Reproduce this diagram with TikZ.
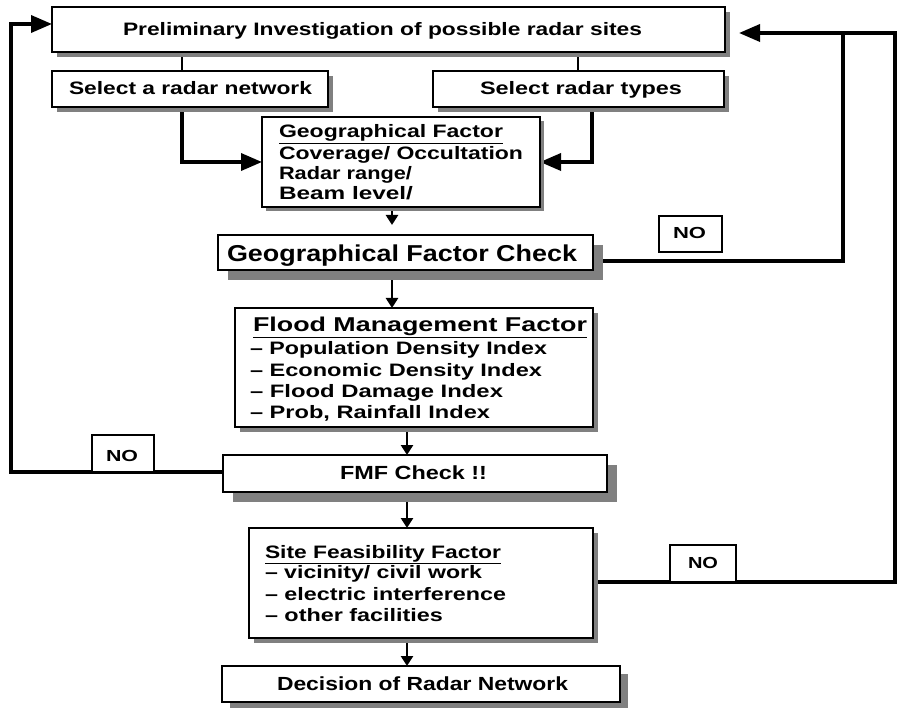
\documentclass[tikz,border=0pt]{standalone}
\usepackage{fontspec}
\setmainfont{Liberation Sans}
\usepackage{graphicx}
\usetikzlibrary{arrows.meta,shadows}
\definecolor{shadowgray}{HTML}{808080}
\pgfdeclarelayer{bg}
\pgfsetlayers{bg,main}
\newcommand\fitto[2]{\resizebox{#1pt}{\height}{#2}}
\newcommand\setfs[1]{\fontsize{#1}{#1}\selectfont}
\begin{document}
\begin{tikzpicture}[x=1pt,y=-1pt,
  box/.style={draw, line width=1.8pt, fill=white, inner sep=0pt, outer sep=0pt,
    general shadow={fill=shadowgray, shadow xshift=#1pt, shadow yshift=-#1pt}},
  box/.default=5,
  nobox/.style={draw, line width=1.3pt, fill=white, inner sep=0pt, outer sep=0pt},
  txt/.style={anchor=base west, inner sep=0pt, outer sep=0pt, font=\bfseries},
  loopline/.style={line width=3.5pt},
  link/.style={line width=2.5pt},
  bigtip/.style={-{Triangle[length=21pt,width=17pt]}},
  smalltip/.style={-{Triangle[length=10pt,width=12pt]}},
]
\useasboundingbox (0,0) rectangle (899,708);

% boxes
\node[box] (top) at (388.5,29.5) [minimum width=673pt, minimum height=45pt] {};
\node[box] (selnet) at (190,89) [minimum width=276pt, minimum height=36pt] {};
\node[box] (seltyp) at (578.5,89) [minimum width=291pt, minimum height=36pt] {};
\node[box=4] (geo) at (401,162) [minimum width=278pt, minimum height=90pt] {};
\node[box=10] (gfc) at (405.5,252.5) [minimum width=375pt, minimum height=35pt] {};
\node[box] (fmf) at (414,367.5) [minimum width=358pt, minimum height=119pt] {};
\node[box=10] (fmfc) at (415,473.5) [minimum width=384pt, minimum height=37pt] {};
\node[box] (sff) at (421,583) [minimum width=344pt, minimum height=110pt] {};
\node[box=8] (dec) at (421,684) [minimum width=398pt, minimum height=36pt] {};
\node[nobox] (no1) at (690.5,234) [minimum width=63pt, minimum height=36pt] {};
\node[nobox] (no2) at (123,453.5) [minimum width=62pt, minimum height=37pt] {};
\node[nobox] (no3) at (703,563.5) [minimum width=66pt, minimum height=37pt] {};

% texts
\node[txt] (ttop) at (123,36) {\setfs{18}\fitto{519}{Preliminary Investigation of possible radar sites}};
\node[txt] (tsn) at (69,95) {\setfs{18}\fitto{243}{Select a radar network}};
\node[txt] (tst) at (480,95) {\setfs{18}\fitto{202}{Select radar types}};
\node[txt] (g1) at (279,138) {\setfs{18}\fitto{224}{\underline{Geographical Factor}}};
\node[txt] (g2) at (279,160) {\setfs{18}\fitto{244}{Coverage/ Occultation}};
\node[txt] (g3) at (279,180) {\setfs{18}\fitto{133}{Radar range/}};
\node[txt] (g4) at (279,200) {\setfs{18}\fitto{134}{Beam level/}};
\node[txt] (tgfc) at (227,262) {\setfs{23}\fitto{350}{Geographical Factor Check}};
\node[txt] (f0) at (253,332) {\setfs{20}\fitto{334}{\underline{Flood Management Factor}}};
\node[txt] (f1) at (250,355) {\setfs{18}\fitto{297}{– Population Density Index}};
\node[txt] (f2) at (250,376) {\setfs{18}\fitto{292}{– Economic Density Index}};
\node[txt] (f3) at (250,397) {\setfs{18}\fitto{253}{– Flood Damage Index}};
\node[txt] (f4) at (250,418) {\setfs{18}\fitto{240}{– Prob, Rainfall Index}};
\node[txt] (tfmfc) at (340,479) {\setfs{19}\fitto{147}{FMF Check !!}};
\node[txt] (s0) at (265,558) {\setfs{18}\fitto{236}{\underline{Site Feasibility Factor}}};
\node[txt] (s1) at (265,578) {\setfs{18}\fitto{217}{– vicinity/ civil work}};
\node[txt] (s2) at (265,600) {\setfs{18}\fitto{241}{– electric interference}};
\node[txt] (s3) at (265,621) {\setfs{18}\fitto{178}{– other facilities}};
\node[txt] (tdec) at (277,690) {\setfs{19}\fitto{291}{Decision of Radar Network}};
\node[txt] (tno1) at (673,239) {\setfs{16}\fitto{33}{NO}};
\node[txt] (tno2) at (106,461) {\setfs{16}\fitto{32}{NO}};
\node[txt] (tno3) at (688,568) {\setfs{16}\fitto{30}{NO}};

% helper coordinates
\coordinate (cA) at (182,162);
\coordinate (cB) at (592,162);
\coordinate (cD) at (578,0);
\coordinate (m1) at (392,225);
\coordinate (m3) at (407,0);
\coordinate (cL) at (11,24);
\coordinate (cR1) at (843,33);
\coordinate (cR2) at (895,33);
\coordinate (tipR) at (739,33);
\coordinate (gfcout) at (593,261);

\begin{pgfonlayer}{bg}
\draw[link] (top.south -| cA) -- (selnet.north -| cA);
\draw[link] (top.south -| cD) -- (seltyp.north -| cD);
\draw[loopline,bigtip] (selnet.south -| cA) -- (cA) -- (cA -| geo.west);
\draw[loopline,bigtip] (seltyp.south -| cB) -- (cB) -- (cB -| geo.east);
\draw[link,smalltip] (geo.south -| m1) -- (m1);
\draw[link,smalltip] (gfc.south -| m1) -- (fmf.north -| m1);
\draw[link,smalltip] (fmf.south -| m3) -- (fmfc.north -| m3);
\draw[link,smalltip] (fmfc.south -| m3) -- (sff.north -| m3);
\draw[link,smalltip] (sff.south -| m3) -- (dec.north -| m3);
\draw[loopline] (gfcout) -| (cR1);
\draw[loopline,bigtip] (no3.south -| sff.east) -| (cR2) -- (tipR);
\draw[loopline,bigtip] (no2.south -| fmfc.west) -| (cL) -- (cL -| top.west);
\end{pgfonlayer}
\end{tikzpicture}
\end{document}
